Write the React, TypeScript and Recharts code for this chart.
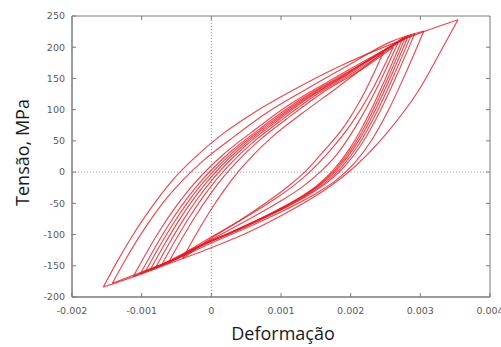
import React from 'react';
import { LineChart, Line, XAxis, YAxis, ReferenceLine, ReferenceArea } from 'recharts';

type Pt = [number, number];

// Axis ticks
const strainTicks = [-0.002, -0.001, 0, 0.001, 0.002, 0.003, 0.004];
const stressTicks = [-200, -150, -100, -50, 0, 50, 100, 150, 200, 250];
const strainDomain: [number, number] = [-0.002, 0.004];
const stressDomain: [number, number] = [-200, 250];

// Hysteresis loops: [strain, stress (MPa)], each branch listed by increasing strain.
const loop1Loading: Pt[] = [[-0.00155, -184], [-0.00135, -143], [-0.00115, -105], [-0.00095, -71], [-0.00075, -40], [-0.00055, -12], [-0.00025, 22], [0.00015, 60], [0.00065, 98], [0.00125, 136], [0.00185, 170], [0.00245, 199], [0.00305, 225], [0.00354, 244]];
const loop1Unloading: Pt[] = [[-0.00155, -184], [-0.001, -163], [-0.0004, -138], [0, -121], [0.0005, -98], [0.001, -70], [0.0015, -38], [0.00175, -19], [0.002, 3], [0.0025, 60], [0.003, 135], [0.0033, 195], [0.00354, 244]];

const loop2Loading: Pt[] = [[-0.00142, -178], [-0.00122, -138], [-0.00102, -101], [-0.00082, -68], [-0.00062, -39], [-0.00042, -14], [-0.00012, 18], [0.00028, 53], [0.00078, 94], [0.00138, 134], [0.00198, 172], [0.00258, 209], [0.00305, 226]];
const loop2Unloading: Pt[] = [[-0.00142, -178], [-0.001, -160], [-0.0004, -134], [0.00005, -111], [0.00055, -87], [0.00105, -61], [0.00155, -31], [0.0018, -12], [0.00205, 14], [0.0023, 51], [0.00255, 101], [0.0028, 161], [0.00305, 226]];

const loop3Loading: Pt[] = [[-0.00112, -167], [-0.00092, -127], [-0.00072, -90], [-0.00052, -57], [-0.00032, -28], [-0.00012, -3], [0.00018, 29], [0.00058, 64], [0.00108, 105], [0.00168, 145], [0.00228, 183], [0.00292, 222]];
const loop3Unloading: Pt[] = [[-0.00112, -167], [-0.0005, -137], [-0.00008, -115], [0.00042, -91], [0.00092, -65], [0.00142, -35], [0.00167, -16], [0.00192, 10], [0.00217, 47], [0.00242, 97], [0.00267, 157], [0.00292, 222]];

const loop4Loading: Pt[] = [[-0.00102, -163], [-0.00082, -123], [-0.00062, -86], [-0.00042, -53], [-0.00022, -24], [-0.00002, 1], [0.00028, 33], [0.00068, 68], [0.00118, 109], [0.00178, 149], [0.00238, 187], [0.00287, 220]];
const loop4Unloading: Pt[] = [[-0.00102, -163], [-0.0005, -138], [-0.00013, -117], [0.00037, -93], [0.00087, -67], [0.00137, -37], [0.00162, -18], [0.00187, 8], [0.00212, 45], [0.00237, 95], [0.00262, 155], [0.00287, 220]];

const loop5Loading: Pt[] = [[-0.00095, -160], [-0.00075, -120], [-0.00055, -83], [-0.00035, -50], [-0.00015, -21], [0.00005, 4], [0.00035, 36], [0.00075, 71], [0.00125, 112], [0.00185, 152], [0.00245, 193], [0.00283, 219]];
const loop5Unloading: Pt[] = [[-0.00095, -160], [-0.0005, -139], [-0.00017, -119], [0.00033, -94], [0.00083, -68], [0.00133, -38], [0.00158, -19], [0.00183, 7], [0.00208, 44], [0.00233, 94], [0.00258, 154], [0.00283, 219]];

const loop6Loading: Pt[] = [[-0.00088, -157], [-0.00068, -117], [-0.00048, -80], [-0.00028, -47], [-0.00008, -18], [0.00012, 7], [0.00042, 39], [0.00082, 74], [0.00132, 115], [0.00192, 155], [0.00252, 198], [0.00279, 217]];
const loop6Unloading: Pt[] = [[-0.00088, -157], [-0.0005, -138], [-0.00021, -120], [0.00029, -96], [0.00079, -70], [0.00129, -40], [0.00154, -21], [0.00179, 5], [0.00204, 42], [0.00229, 92], [0.00254, 152], [0.00279, 217]];

const loop7Loading: Pt[] = [[-0.0008, -153], [-0.0006, -113], [-0.0004, -76], [-0.0002, -43], [0, -14], [0.0002, 11], [0.0005, 43], [0.0009, 78], [0.0014, 119], [0.002, 159], [0.00275, 215]];
const loop7Unloading: Pt[] = [[-0.0008, -153], [-0.0005, -136], [-0.00025, -122], [0.00025, -98], [0.00075, -72], [0.00125, -42], [0.0015, -23], [0.00175, 3], [0.002, 40], [0.00225, 90], [0.0025, 150], [0.00275, 215]];

const loop8Loading: Pt[] = [[-0.00072, -150], [-0.00052, -110], [-0.00032, -73], [-0.00012, -40], [0.00008, -11], [0.00028, 14], [0.00058, 46], [0.00098, 81], [0.00148, 122], [0.00208, 162], [0.00268, 207]];
const loop8Unloading: Pt[] = [[-0.00072, -150], [-0.0004, -134], [0, -108], [0.0005, -78], [0.001, -46], [0.0013, -24], [0.00156, 0], [0.0018, 28], [0.0021, 78], [0.0024, 140], [0.00268, 207]];

const loop9Loading: Pt[] = [[-0.00062, -146], [-0.00042, -106], [-0.00022, -69], [-0.00002, -36], [0.00018, -7], [0.00038, 18], [0.00068, 50], [0.00108, 85], [0.00158, 126], [0.00218, 166], [0.00261, 200]];
const loop9Unloading: Pt[] = [[-0.00062, -146], [-0.0003, -124], [0, -104], [0.0005, -72], [0.0009, -44], [0.0012, -20], [0.00141, 0], [0.0017, 34], [0.002, 76], [0.0023, 130], [0.00261, 200]];

const loop10Loading: Pt[] = [[-0.00041, -138], [-0.00021, -98], [-0.00001, -61], [0.00019, -28], [0.00039, 1], [0.00059, 26], [0.00089, 58], [0.00129, 93], [0.00179, 134], [0.00247, 192]];
const loop10Unloading: Pt[] = [[-0.00041, -138], [0, -106], [0.0004, -78], [0.0008, -48], [0.0011, -23], [0.00134, 0], [0.0016, 32], [0.0019, 72], [0.0022, 128], [0.00247, 192]];

const branches: Pt[][] = [
  loop1Loading, loop1Unloading,
  loop2Loading, loop2Unloading,
  loop3Loading, loop3Unloading,
  loop4Loading, loop4Unloading,
  loop5Loading, loop5Unloading,
  loop6Loading, loop6Unloading,
  loop7Loading, loop7Unloading,
  loop8Loading, loop8Unloading,
  loop9Loading, loop9Unloading,
  loop10Loading, loop10Unloading,
];

const toRows = (b: Pt[]) => b.map(([strain, stress]) => ({ strain, stress }));

const fmtStrain = (v: number) => (v === 0 ? '0' : v.toFixed(3));

const axisColor = '#7a7a7a';
const tickStyle = { fill: '#5a5a5a', fontSize: 9.5, fontFamily: 'DejaVu Sans' };
const titleStyle = { fill: '#1a1a1a', fontSize: 18, fontFamily: 'Open Sans' };
const lineColor = '#ea1820';

// Mirrored inward tick marks on the top and right edges (about 4 px long).
const PLOT_W = 418;
const PLOT_H = 281;
const TICK_PX = 4;
const xTickLen = ((strainDomain[1] - strainDomain[0]) / PLOT_W) * TICK_PX;
const yTickLen = ((stressDomain[1] - stressDomain[0]) / PLOT_H) * TICK_PX;

const XTitle = (props: any) => {
  const vb = props.viewBox || {};
  const cx = (vb.x ?? 0) + (vb.width ?? 0) / 2;
  return (
    <text x={cx + 2} y={340} textAnchor="middle" {...titleStyle}>
      Deformação
    </text>
  );
};

const YTitle = (props: any) => {
  const vb = props.viewBox || {};
  const cy = (vb.y ?? 0) + (vb.height ?? 0) / 2;
  const x = 29;
  return (
    <text x={x} y={cy - 4} transform={`rotate(-90 ${x} ${cy - 4})`} textAnchor="middle" {...titleStyle}>
      Tensão, MPa
    </text>
  );
};

export default function App() {
  return (
    <div style={{ position: 'absolute', left: 0, top: 0, background: '#fff' }}>
      <LineChart width={501} height={347} margin={{ top: 16, right: 11, bottom: 0, left: 0 }}>
        <XAxis
          dataKey="strain"
          type="number"
          domain={strainDomain}
          ticks={strainTicks}
          interval={0}
          allowDataOverflow
          height={50}
          tickSize={-4}
          tickMargin={14}
          stroke={axisColor}
          tickLine={{ stroke: axisColor }}
          tick={tickStyle}
          tickFormatter={fmtStrain}
          label={{ content: XTitle }}
        />
        <YAxis
          type="number"
          domain={stressDomain}
          ticks={stressTicks}
          interval={0}
          allowDataOverflow
          width={72}
          tickSize={-4}
          tickMargin={11}
          stroke={axisColor}
          tickLine={{ stroke: axisColor }}
          tick={tickStyle}
          label={{ content: YTitle }}
        />
        {/* plot frame */}
        <ReferenceArea
          x1={strainDomain[0]}
          x2={strainDomain[1]}
          y1={stressDomain[0]}
          y2={stressDomain[1]}
          fill="none"
          stroke={axisColor}
          strokeWidth={1}
        />
        {strainTicks.slice(1, -1).map((t) => (
          <ReferenceLine
            key={`tx${t}`}
            segment={[{ x: t, y: stressDomain[1] }, { x: t, y: stressDomain[1] - yTickLen }]}
            stroke={axisColor}
          />
        ))}
        {stressTicks.slice(1, -1).map((t) => (
          <ReferenceLine
            key={`ty${t}`}
            segment={[{ x: strainDomain[1], y: t }, { x: strainDomain[1] - xTickLen, y: t }]}
            stroke={axisColor}
          />
        ))}
        <ReferenceLine x={0} stroke="#9a9a9a" strokeDasharray="1 2" />
        <ReferenceLine y={0} stroke="#9a9a9a" strokeDasharray="1 2" />
        {branches.map((b, i) => (
          <Line
            key={i}
            data={toRows(b)}
            dataKey="stress"
            type="monotone"
            stroke={lineColor}
            strokeWidth={1.15}
            strokeOpacity={0.8}
            dot={false}
            activeDot={false}
            isAnimationActive={false}
          />
        ))}
      </LineChart>
    </div>
  );
}
